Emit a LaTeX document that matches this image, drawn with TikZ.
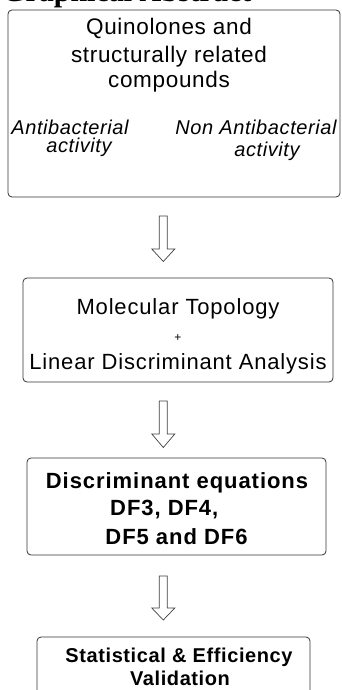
\documentclass[tikz,border=0pt]{standalone}
\usepackage{fontspec}
\setmainfont{Liberation Sans}
\newfontfamily\titlefont{Liberation Serif}
\newfontfamily\spA[LetterSpace=3]{Liberation Sans}
\newfontfamily\spB[LetterSpace=3.8]{Liberation Sans}
\newfontfamily\spC[LetterSpace=4.3]{Liberation Sans}
\newfontfamily\spD[LetterSpace=3]{Liberation Sans}
\usetikzlibrary{calc}
\tikzset{
  boxstyle/.style={draw=black!80, line width=0.8pt, rounded corners=4pt, inner sep=0pt},
  txta/.style={inner sep=0pt, anchor=base, font=\spA\fontsize{22.5}{25}\selectfont},
  itxt/.style={inner sep=0pt, anchor=base, font=\spA\fontsize{20}{22}\selectfont\itshape},
  txtb/.style={inner sep=0pt, anchor=base, font=\spB\fontsize{22}{25}\selectfont},
  btxt/.style={inner sep=0pt, anchor=base, font=\spC\fontsize{22}{25}\selectfont\bfseries},
  btxd/.style={inner sep=0pt, anchor=base, font=\spD\fontsize{20}{23}\selectfont\bfseries},
  hollow/.style={draw=black!75, line width=0.7pt, fill=white, line join=miter}
}
\newcommand\hollowarrow[4]{% x center, top y, shaft bottom y, tip y
  \draw[hollow] (#1-4,#2) -- (#1+4,#2) -- (#1+4,#3) -- (#1+11.5,#3) -- (#1,#4)
    -- (#1-11.5,#3) -- (#1-4,#3) -- cycle;}
\begin{document}
\begin{tikzpicture}[x=1pt,y=-1pt]
\useasboundingbox (0,0) rectangle (342,690);
% title, mostly above the page edge
\node[inner sep=0pt, anchor=base west, font=\fontsize{30}{32}\selectfont\titlefont\bfseries] (title) at (2,1.5) {Graphical Abstract};
% box 1
\node[boxstyle, minimum width=332pt, minimum height=187pt] (b1) at (174,103.5) {};
\node[txta] (q1) at (169,35) {Quinolones and};
\node[txta] (q2) at (169,63) {structurally related};
\node[txta] (q3) at (169,88) {compounds};
\node[itxt] (a1) at (70,134) {Antibacterial};
\node[itxt] (a2) at (79,152) {activity};
\node[itxt] (n1) at (256,134) {Non Antibacterial};
\node[itxt] (n2) at (267,156) {activity};
% arrow 1
\hollowarrow{163.3}{216}{249}{261.5}
% box 2
\node[boxstyle, minimum width=310pt, minimum height=104pt] (b2) at (178,330) {};
\node[txtb] (m1) at (178,314) {Molecular Topology};
\node[inner sep=0pt, anchor=base, font=\fontsize{12}{14}\selectfont] (m2) at (178,341) {+};
\node[txtb] (m3) at (178,369) {Linear Discriminant Analysis};
% arrow 2
\hollowarrow{163.3}{401}{434}{447.5}
% box 3
\node[boxstyle, minimum width=299pt, minimum height=97pt] (b3) at (176.5,506.5) {};
\node[btxt] (d1) at (177,488) {Discriminant equations};
\node[btxt, anchor=base west] (d2) at (110,515) {DF3, DF4,};
\node[btxt] (d3) at (176.5,544) {DF5 and DF6};
% arrow 3
\hollowarrow{163.3}{576}{608}{620}
% box 4
\node[boxstyle, minimum width=273pt, minimum height=80pt] (b4) at (173.5,677) {};
\node[btxd] (s1) at (179,662) {Statistical \& Efficiency};
\node[btxd] (s2) at (180,685) {Validation};
\end{tikzpicture}
\end{document}
